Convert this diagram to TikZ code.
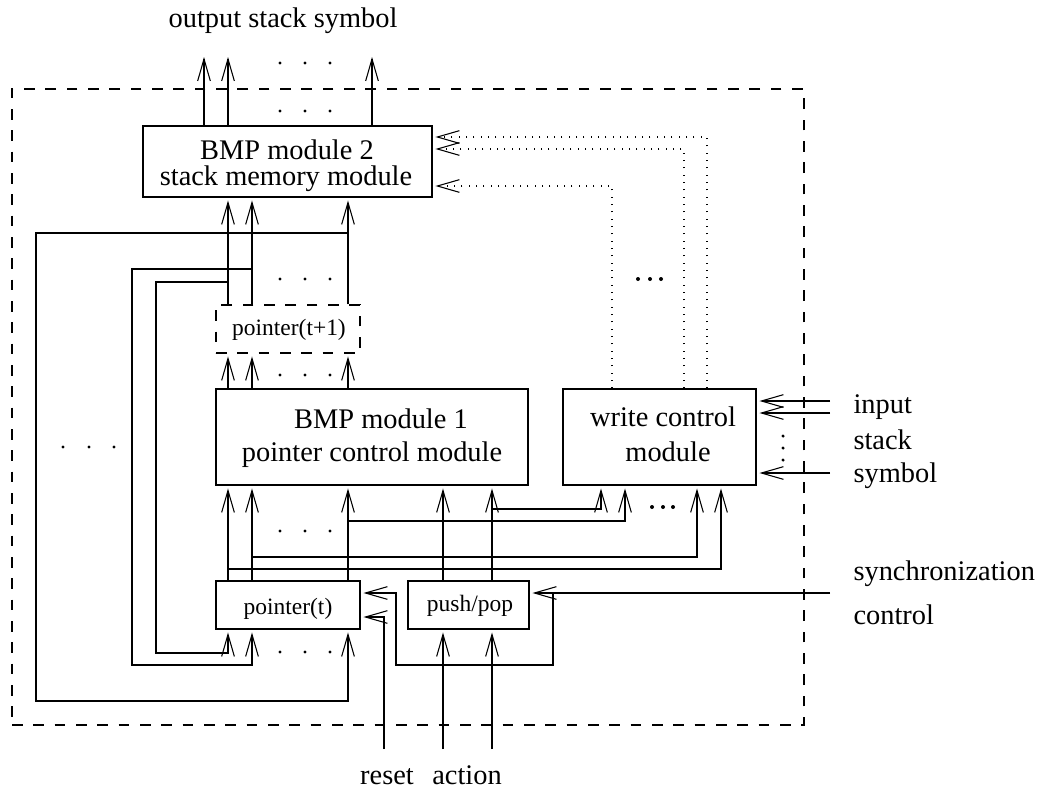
\documentclass[tikz,border=0pt]{standalone}
\usepackage{fontspec}
\setmainfont{Liberation Serif}
\usetikzlibrary{arrows.meta}
\begin{document}
\begin{tikzpicture}[x=0.75pt, y=-0.75pt, line width=0.8pt]
\tikzset{
  box/.style={draw, rectangle, inner sep=0pt},
  dbox/.style={box, dash pattern=on 8pt off 8pt},
  big/.style={font=\fontsize{21.3}{25}\selectfont, inner sep=0pt, anchor=base},
  small/.style={font=\fontsize{17.6}{21}\selectfont, inner sep=0pt, anchor=base},
  wire/.style={-{Straight Barb[length=16.5pt,width=9.5pt]}, shorten >=2.2pt},
  dotwire/.style={wire, dash pattern=on 0.75pt off 4.75pt},
}
\useasboundingbox (0,0) rectangle (1042,793);

% enclosing dashed frame and modules
\node[dbox, minimum width=594pt, minimum height=477pt] (frame) at (408,407) {};
\node[box, minimum width=216.75pt, minimum height=53.25pt] (bmp2) at (287.5,161.5) {};
\node[dbox, minimum width=108pt, minimum height=36pt] (ptn) at (288,329) {};
\node[box, minimum width=234pt, minimum height=72pt] (bmp1) at (372,437) {};
\node[box, minimum width=144.75pt, minimum height=72pt] (wctl) at (659.5,437) {};
\node[box, minimum width=108pt, minimum height=36pt] (ptt) at (288,605) {};
\node[box, minimum width=90.75pt, minimum height=36pt] (pp) at (468.5,605) {};

% labels
\node[big] (t-out) at (283,27) {output stack symbol};
\node[big] (t-bmp2a) at (287,159) {BMP module 2};
\node[big] (t-bmp2b) at (286,185) {stack memory module};
\node[small] (t-ptn) at (289,335) {pointer(t+1)};
\node[big] (t-bmp1a) at (381,428) {BMP module 1};
\node[big] (t-bmp1b) at (372,461) {pointer control module};
\node[big] (t-wa) at (663,426) {write control};
\node[big] (t-wb) at (668,461) {module};
\node[small] (t-ptt) at (288,614) {pointer(t)};
\node[small] (t-pp) at (470,611) {push/pop};
\node[big, anchor=base west] (t-in1) at (853,413) {input};
\node[big, anchor=base west] (t-in2) at (853,449) {stack};
\node[big, anchor=base west] (t-in3) at (853,482) {symbol};
\node[big, anchor=base west] (t-sy1) at (853,580) {synchronization};
\node[big, anchor=base west] (t-sy2) at (853,624) {control};
\node[big] (t-reset) at (387,784) {reset};
\node[big] (t-action) at (467,784) {action};

% columns and free ends
\coordinate (o1) at (204,57);
\coordinate (o2) at (228,57);
\coordinate (o3) at (372,57);
\coordinate (p1) at (228,0);
\coordinate (p2) at (252,0);
\coordinate (p3) at (348,0);

% outputs of the stack memory
\foreach \c in {o1,o2,o3}
  \draw[wire, shorten >=0pt] (bmp2.north -| \c) -- (\c);

% pointer buses
\foreach \c in {p1,p2,p3} {
  \draw[wire] (ptn.north -| \c) -- (bmp2.south -| \c);
  \draw[wire] (bmp1.north -| \c) -- (ptn.south -| \c);
  \draw[wire] (ptt.north -| \c) -- (bmp1.south -| \c);
}

% feedback of pointer(t+1) into pointer(t)
\coordinate (fb1) at (228,282);
\coordinate (fb1c) at (156,653);
\coordinate (fb2) at (252,269);
\coordinate (fb2c) at (132,665);
\coordinate (fb3) at (348,233);
\coordinate (fb3c) at (36,701);
\draw[wire] (fb1) -| (fb1c) -| (ptt.south -| p1);
\draw[wire] (fb2) -| (fb2c) -| (ptt.south -| p2);
\draw[wire] (fb3) -| (fb3c) -| (ptt.south -| p3);

% taps into the write control module
\coordinate (b1) at (228,569);
\coordinate (b1e) at (721,569);
\coordinate (b2) at (252,557);
\coordinate (b2e) at (697,557);
\coordinate (b3) at (348,521);
\coordinate (b3e) at (625,521);
\coordinate (b4) at (492,509);
\coordinate (b4e) at (601,509);
\draw[wire] (b1) -- (b1e) -- (wctl.south -| b1e);
\draw[wire] (b2) -- (b2e) -- (wctl.south -| b2e);
\draw[wire] (b3) -- (b3e) -- (wctl.south -| b3e);
\draw[wire] (b4) -- (b4e) -- (wctl.south -| b4e);

% push/pop action
\coordinate (q1) at (443,749);
\coordinate (q2) at (492,749);
\foreach \c in {q1,q2} {
  \draw[wire] (\c) -- (pp.south -| \c);
  \draw[wire] (pp.north -| \c) -- (bmp1.south -| \c);
}

% synchronization control
\coordinate (sync) at (830,593);
\coordinate (s0) at (553,593);
\coordinate (s1) at (396,665);
\draw[wire] (sync) -- (pp.east |- sync);
\draw[wire] (s0) |- (s1) |- (ptt.east |- s0);

% reset
\coordinate (rst) at (384,749);
\coordinate (ry) at (0,617);
\draw[wire] (rst) |- (ptt.east |- ry);

% input stack symbol
\coordinate (in1) at (830,401);
\coordinate (in2) at (830,413);
\coordinate (in3) at (830,473);
\foreach \c in {in1,in2,in3}
  \draw[wire] (\c) -- (wctl.east |- \c);

% write enables (dotted)
\coordinate (dt1) at (612,186);
\coordinate (dt2) at (684,149);
\coordinate (dt3) at (707,137);
\foreach \c in {dt1,dt2,dt3}
  \draw[dotwire] (wctl.north -| \c) |- (bmp2.east |- \c);

% ellipses
\foreach \y in {63,111,279,375,531,652}
  \foreach \x in {280,305,330}
    \fill (\x,\y) circle[radius=1.2pt];
\foreach \x in {63,89,114}
  \fill (\x,447) circle[radius=1.2pt];
\foreach \x in {638,650,661}
  \fill (\x,279) circle[radius=1.5pt];
\foreach \x in {652,663,673}
  \fill (\x,507) circle[radius=1.5pt];
\foreach \y in {436,448,460}
  \fill (783,\y) circle[radius=1.3pt];
\end{tikzpicture}
\end{document}
